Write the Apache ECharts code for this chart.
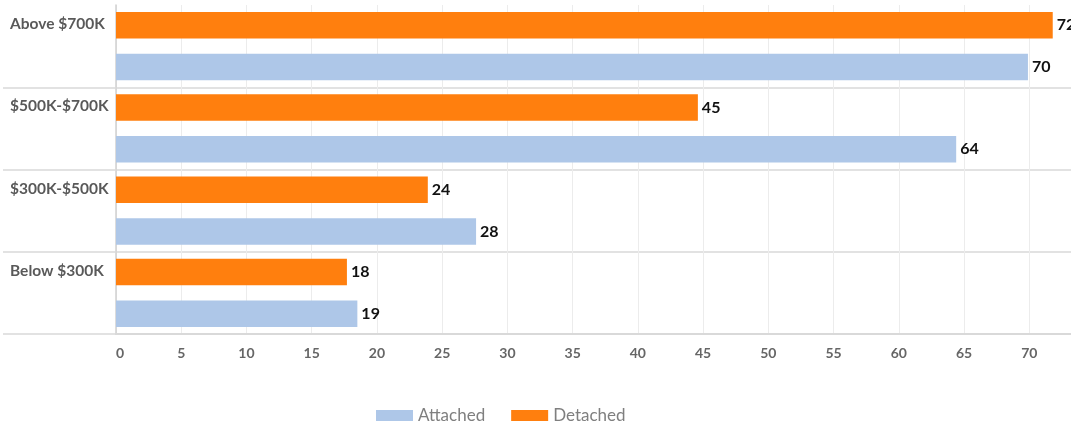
<!DOCTYPE html>
<html><head><meta charset="utf-8">
<script src="https://cdn.jsdelivr.net/npm/echarts@6/dist/echarts.min.js"></script>
<style>html,body{margin:0;padding:0;background:#fff}#c{width:1071px;height:423px}</style>
</head><body><div id="c"></div>
<script>
// categories listed top to bottom
const categories = ['Above $700K', '$500K-$700K', '$300K-$500K', 'Below $300K'];
const attached = [69.9, 64.4, 27.6, 18.5];
const detached = [71.8, 44.6, 23.9, 17.7];
const legendNames = ['Attached', 'Detached'];
const seriesOrder = ['Detached', 'Attached'];
const colors = { Attached: '#aec7e8', Detached: '#ff7f0e' };

const FONT = 'Lato, "Open Sans", sans-serif';
const chart = echarts.init(document.getElementById('c'), null, { renderer: 'canvas' });
const sepLine = { color: '#d9d9d9', width: 1.5 };
const labelCfg = {
  show: true, position: 'right', distance: 4,
  fontFamily: FONT, fontWeight: 'bold', fontSize: 16, color: '#111',
  formatter: p => Math.round(p.value)
};
chart.setOption({
  animation: false,
  textStyle: { fontFamily: FONT },
  grid: { left: 116, right: 0, top: 5, bottom: 89, containLabel: false },
  legend: {
    data: legendNames, left: 371, top: 402, icon: 'rect',
    itemWidth: 37, itemHeight: 11, itemGap: 26,
    textStyle: { fontFamily: FONT, fontSize: 17, color: '#7f7f7f' }
  },
  xAxis: {
    type: 'value', min: 0, max: 73.2, interval: 5,
    axisLine: { show: true, lineStyle: { color: '#d9d9d9', width: 2 } },
    axisTick: { show: false },
    splitLine: { show: true, lineStyle: { color: '#ececec', width: 1 } },
    axisLabel: { showMaxLabel: false, alignMinLabel: 'left', color: '#666', fontFamily: FONT, fontWeight: 'bold', fontSize: 14, margin: 12 }
  },
  yAxis: {
    type: 'category', inverse: true, data: categories,
    axisLine: { show: true, lineStyle: { color: '#d0d0d0', width: 1.5 } },
    axisTick: { show: true, length: 113, interval: (i) => i > 0, lineStyle: sepLine },
    splitLine: { show: true, interval: (i) => i > 0, lineStyle: sepLine },
    axisLabel: {
      align: 'left', margin: 106, verticalAlign: 'bottom', lineHeight: 44,
      fontFamily: FONT, fontWeight: 'bold', fontSize: 15.5, color: '#595959'
    }
  },
  series: seriesOrder.map((name) => ({
    name, type: 'bar',
    data: name === 'Attached' ? attached : detached,
    itemStyle: { color: colors[name] },
    barWidth: 26.5, barGap: '57%',
    label: labelCfg
  }))
});
</script></body></html>
